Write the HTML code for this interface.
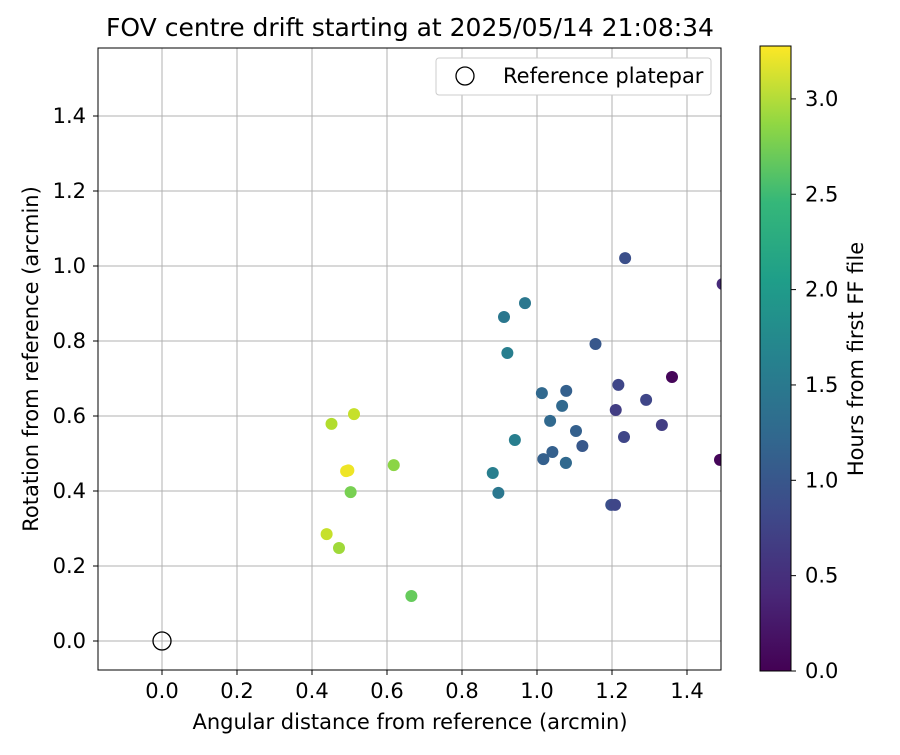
<!DOCTYPE html>
<html><head><meta charset="utf-8"><style>
body{margin:0;background:#fff;font-family:"Liberation Sans","DejaVu Sans",sans-serif}
svg text{font-family:"DejaVu Sans","Liberation Sans",sans-serif}
</style></head><body>
<svg id="c" width="900" height="750" xmlns="http://www.w3.org/2000/svg">
<defs><linearGradient id="vg" x1="0" y1="1" x2="0" y2="0">
<stop offset="0" stop-color="#440154"/><stop offset="0.125" stop-color="#482878"/><stop offset="0.25" stop-color="#3e4989"/><stop offset="0.375" stop-color="#31688e"/><stop offset="0.5" stop-color="#26828e"/><stop offset="0.625" stop-color="#1f9e89"/><stop offset="0.75" stop-color="#35b779"/><stop offset="0.875" stop-color="#90d743"/><stop offset="1" stop-color="#fde725"/></linearGradient>
<clipPath id="pc"><rect x="98" y="48" width="623" height="622"/></clipPath></defs>
<text x="410" y="36" font-size="25" text-anchor="middle">FOV centre drift starting at 2025/05/14 21:08:34</text>
<g id="grid"></g><g id="pts" clip-path="url(#pc)"></g>
<rect x="98" y="48" width="623" height="622" fill="none" stroke="#000" stroke-width="1"/>
<text x="410" y="729" font-size="21" text-anchor="middle">Angular distance from reference (arcmin)</text>
<text transform="translate(38,359) rotate(-90)" font-size="21" text-anchor="middle">Rotation from reference (arcmin)</text>
<g>
<rect x="436" y="58" width="275" height="37" rx="3" fill="#fff" stroke="#ccc"/>
<circle cx="465" cy="76" r="9" fill="none" stroke="#000" stroke-width="1.3"/>
<text x="503" y="83" font-size="21">Reference platepar</text></g>
<rect x="760" y="46" width="31" height="625" fill="url(#vg)" stroke="#000" stroke-width="1"/>
<g id="cb"></g>
<text transform="translate(863,359) rotate(-90)" font-size="21" text-anchor="middle">Hours from first FF file</text>
</svg>
<script>
const xs=[1.235,1.495,0.912,0.968,1.156,0.921,1.360,1.217,1.291,1.078,1.013,1.210,1.067,1.035,1.077,1.232,1.104,1.333,1.041,1.017,1.121,1.077,0.941,0.882,0.897,1.198,1.208,1.488,0.452,0.512,0.618,0.491,0.497,0.503,0.439,0.472,0.665];
const ys=[1.021,0.952,0.864,0.901,0.792,0.768,0.704,0.683,0.643,0.667,0.661,0.616,0.627,0.587,0.475,0.544,0.56,0.576,0.504,0.485,0.52,0.475,0.536,0.448,0.395,0.363,0.363,0.483,0.579,0.605,0.469,0.453,0.455,0.397,0.285,0.248,0.12];
const hours=[0.8,0.4,1.3,1.3,0.9,1.4,0.05,0.7,0.7,1.0,1.1,0.6,1.1,1.1,1.2,0.7,1.0,0.6,1.0,1.0,0.9,1.1,1.4,1.4,1.3,0.8,0.7,0.05,2.9,3.0,2.7,3.2,3.2,2.6,3.0,2.8,2.5];
const xTicks=[0,0.2,0.4,0.6,0.8,1.0,1.2,1.4];
const yTicks=[0,0.2,0.4,0.6,0.8,1.0,1.2,1.4];
const cTicks=[0,0.5,1.0,1.5,2.0,2.5,3.0];
const NS="http://www.w3.org/2000/svg";
const X=v=>162+v*375, Y=v=>641-v*375, C=v=>671-v*190.7;
const vir=["#440154","#482878","#3e4989","#31688e","#26828e","#1f9e89","#35b779","#6ece58","#b5de2b","#fde725"];
function col(h){let t=Math.max(0,Math.min(1,h/3.278))*(vir.length-1);let i=Math.min(vir.length-2,Math.floor(t)),f=t-i;
const a=vir[i],b=vir[i+1];let o="#";for(let k=1;k<7;k+=2){const v=Math.round(parseInt(a.substr(k,2),16)*(1-f)+parseInt(b.substr(k,2),16)*f);o+=v.toString(16).padStart(2,"0");}return o;}
function mk(t,a,p){const e=document.createElementNS(NS,t);for(const k in a)e.setAttribute(k,a[k]);p.appendChild(e);return e;}
const g=document.getElementById("grid");
xTicks.forEach(v=>{const l=mk("line",{x1:X(v),x2:X(v),y1:48,y2:670,stroke:"#b0b0b0","stroke-width":1},g);


mk("line",{x1:X(v),x2:X(v),y1:670,y2:675,stroke:"#000"},g);
const t=mk("text",{x:X(v),y:698,"font-size":21,"text-anchor":"middle"},g);t.textContent=v.toFixed(1);

});
yTicks.forEach(v=>{const l=mk("line",{x1:98,x2:721,y1:Y(v),y2:Y(v),stroke:"#b0b0b0","stroke-width":1},g);


mk("line",{x1:93,x2:98,y1:Y(v),y2:Y(v),stroke:"#000"},g);
const t=mk("text",{x:86,y:Y(v)+7,"font-size":21,"text-anchor":"end"},g);t.textContent=v.toFixed(1);

});
const p=document.getElementById("pts");
xs.forEach((x,i)=>{const c=mk("circle",{cx:X(x),cy:Y(ys[i]),r:6,fill:col(hours[i])},p);

});
const r=mk("circle",{cx:X(0),cy:Y(0),r:9,fill:"none",stroke:"#000","stroke-width":1.3},p);


const cb=document.getElementById("cb");
cTicks.forEach(v=>{mk("line",{x1:791,x2:796,y1:C(v),y2:C(v),stroke:"#000"},cb);
const t=mk("text",{x:805,y:C(v)+7,"font-size":21},cb);t.textContent=v.toFixed(1);

});
</script>
</body></html>
